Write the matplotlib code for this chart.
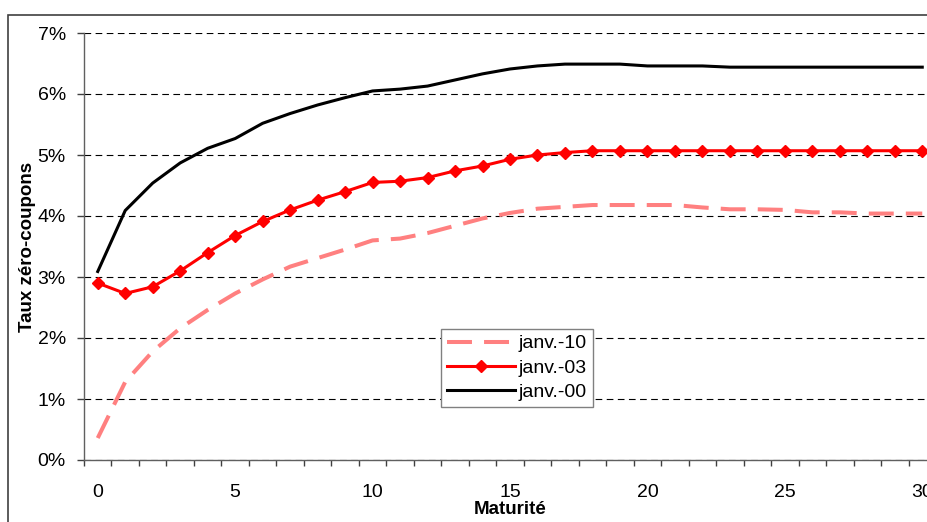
import numpy as np
import matplotlib.pyplot as plt
from matplotlib.patches import Rectangle
from matplotlib.ticker import FuncFormatter

plt.rcParams['font.family'] = ['Liberation Sans', 'DejaVu Sans']

maturites = list(range(31))
janv_00 = [3.09, 4.09, 4.54, 4.87, 5.11, 5.27, 5.52, 5.68, 5.82, 5.94,
           6.05, 6.08, 6.13, 6.23, 6.33, 6.41, 6.46, 6.49, 6.49, 6.49,
           6.46, 6.46, 6.46, 6.44, 6.44, 6.44, 6.44, 6.44, 6.44, 6.44, 6.44]
janv_03 = [2.90, 2.73, 2.84, 3.10, 3.40, 3.68, 3.91, 4.10, 4.26, 4.40,
           4.55, 4.57, 4.63, 4.74, 4.82, 4.93, 5.00, 5.04, 5.07, 5.07,
           5.07, 5.07, 5.07, 5.07, 5.07, 5.07, 5.07, 5.07, 5.07, 5.07, 5.07]
janv_10 = [0.36, 1.28, 1.78, 2.16, 2.46, 2.73, 2.96, 3.17, 3.31, 3.45,
           3.60, 3.63, 3.72, 3.84, 3.96, 4.05, 4.12, 4.15, 4.18, 4.18,
           4.18, 4.18, 4.14, 4.11, 4.11, 4.10, 4.06, 4.06, 4.04, 4.04, 4.04]

W, H = 927, 522
fig = plt.figure(figsize=(W / 100, H / 100), dpi=100)
# axes extends past the right edge, as in the cropped original
ax = fig.add_axes([84 / W, 62 / H, (936 - 84) / W, (460 - 33) / H])

# outer chart frame (only left and top edges fall inside the picture)
fig.patches.append(Rectangle((8 / W, -0.2), 1.2, 1.2 - 15 / H,
                             transform=fig.transFigure, fill=False,
                             edgecolor='#404040', linewidth=1.2))

ax.plot(maturites, janv_10, color='#FF8080', lw=2.9,
        linestyle=(0, (6.2, 3.0)), label='janv.-10', zorder=3)
ax.plot(maturites, janv_03, color='#FF0000', lw=2.2, marker='D',
        markersize=6.5, label='janv.-03', zorder=4)
ax.plot(maturites, janv_00, color='black', lw=2.2, label='janv.-00', zorder=5)

ax.set_xlim(-0.5, 30.5)
ax.set_ylim(0, 7)

ax.set_yticks(range(8))
ax.yaxis.set_major_formatter(FuncFormatter(lambda v, p: f'{int(v)}%'))
ax.set_xticks(range(0, 31, 5))
ax.set_xticks(np.arange(-0.5, 31, 1), minor=True)
ax.tick_params(axis='x', which='major', length=0, labelsize=14, pad=17)
ax.tick_params(axis='x', which='minor', length=4.3, width=1, color='#404040',
               direction='out')
ax.tick_params(axis='y', length=5, width=1, color='#404040', labelsize=14,
               pad=8)

ax.yaxis.grid(True, color='black', linestyle=(0, (6, 4)), linewidth=0.8)
ax.set_axisbelow(True)
for s in ['top', 'right']:
    ax.spines[s].set_visible(False)
for s in ['left', 'bottom']:
    ax.spines[s].set_color('#606060')
    ax.spines[s].set_linewidth(1)

ax.set_ylabel('Taux zéro-coupons', fontsize=13.5, fontweight='bold',
              labelpad=1)
ax.set_xlabel('Maturité', fontsize=13.5, fontweight='bold', labelpad=0)

leg = ax.legend(loc='lower left', bbox_to_anchor=(0.419, 0.124),
                borderaxespad=0, fontsize=14, handlelength=3.5,
                handletextpad=0.2, labelspacing=0.35, borderpad=0.3,
                fancybox=False, framealpha=1, edgecolor='#808080')
leg.get_frame().set_linewidth(1)

fig.savefig('out.png', dpi=100)
